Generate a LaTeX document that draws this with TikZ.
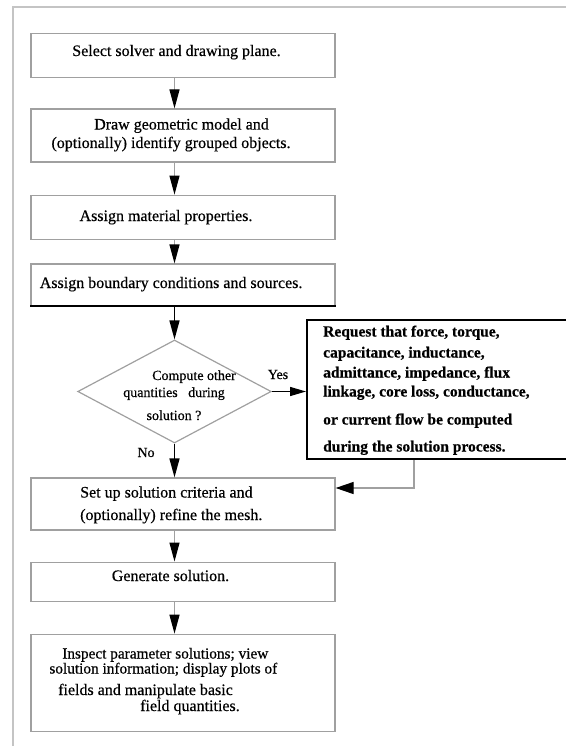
\documentclass[tikz,border=0pt]{standalone}
\usepackage{fontspec}
\setmainfont{Liberation Serif}[FakeBold=0.5]
\usetikzlibrary{arrows.meta,shapes.geometric}
\definecolor{boxgray}{HTML}{A0A0A0}
\definecolor{framegray}{HTML}{C4C4C4}
\tikzset{
  box/.style={draw=boxgray, line width=1.2pt, rectangle, inner sep=0pt, minimum width=304pt},
  dia/.style={diamond, draw=boxgray, line width=1.2pt, inner sep=0pt, minimum width=193.5pt, minimum height=103pt},
  rbox/.style={draw=black, line width=2pt, rectangle, inner sep=0pt},
  txt/.style={inner sep=0pt, font=\fontsize{16}{18}\selectfont, anchor=base},
  ltxt/.style={txt, anchor=base west},
  ctxt/.style={inner sep=0pt, font=\fontsize{15.3}{17}\selectfont, anchor=base},
  stxt/.style={inner sep=0pt, font=\fontsize{14}{16}\selectfont, anchor=base},
  btxt/.style={inner sep=0pt, font=\fontsize{15.5}{17}\selectfont\bfseries, anchor=base west},
  garr/.style={draw=boxgray, line width=1.2pt, -{Triangle[length=19pt,width=10pt,color=black]}},
  barr/.style={draw=black, line width=1.4pt, -{Triangle[length=19pt,width=10pt]}},
  harr/.style={draw=black, line width=1.4pt, -{Triangle[length=16pt,width=9pt]}},
  hgarr/.style={draw=boxgray, line width=1.2pt, -{Triangle[length=18pt,width=12pt,color=black]}},
}
\begin{document}
\begin{tikzpicture}[x=1pt,y=-1pt]
\useasboundingbox (0,0) rectangle (565,746);
% frame
\draw[framegray, line width=2pt] (12.5,747) -- (12.5,7) -- (567,7);
% boxes
\node[box, minimum height=44pt] (b1) at (183,55.3) {};
\node[box, minimum height=53pt] (b2) at (183,135.5) {};
\node[box, minimum height=44pt] (b3) at (183,217.2) {};
\node[box, minimum height=41.5pt] (b4) at (183,284.75) {};
\node[dia] (d) at (174.5,391.5) {};
\node[rbox, minimum width=270pt, minimum height=139pt] (rb) at (442,389.5) {};
\node[box, minimum height=52pt] (b5) at (183,504) {};
\node[box, minimum height=39.5pt] (b6) at (183,581.85) {};
\node[box, minimum height=97.5pt] (b7) at (183,683) {};
\draw[black, line width=2pt] (b4.south west) -- (b4.south east);
\coordinate (ax) at (174.5,0);
\coordinate (c1) at (414,488);
% texts
\node[txt] (t1) at (176.5,56) {Select solver and drawing plane.};
\node[txt] (t2a) at (181.5,129.5) {Draw geometric model and};
\node[txt] (t2b) at (171,148) {(optionally) identify grouped objects.};
\node[txt] (t3) at (166,221) {Assign material properties.};
\node[ltxt] (t4) at (39.6,288) {Assign boundary conditions and sources.};
\node[stxt] (dq1) at (194,380) {Compute other};
\node[stxt] (dq2) at (174,397) {quantities\ \ \ during};
\node[stxt] (dq3) at (174,420) {solution ?};
\node[stxt] (yes) at (278,379) {Yes};
\node[stxt] (no) at (146,457) {No};
\node[btxt] (r1) at (323,336.5) {Request that force, torque,};
\node[btxt] (r2) at (323,357.5) {capacitance, inductance,};
\node[btxt] (r3) at (323,377.5) {admittance, impedance, flux};
\node[btxt] (r4) at (323,396.5) {linkage, core loss, conductance,};
\node[btxt] (r5) at (323,424.5) {or current flow be computed};
\node[btxt] (r6) at (323,451.5) {during the solution process.};
\node[ltxt] (t5a) at (80,497.5) {Set up solution criteria and};
\node[ltxt] (t5b) at (80,520) {(optionally) refine the mesh.};
\node[txt] (t6) at (170.5,581) {Generate solution.};
\node[ctxt] (t7a) at (165.3,658.5) {Inspect parameter solutions; view};
\node[ctxt] (t7b) at (163.3,673.5) {solution information; display plots of};
\node[ltxt] (t7c) at (58,695) {fields and manipulate basic};
\node[ltxt] (t7d) at (140,711) {field quantities.};
% connectors
\draw[garr] (b1.south -| ax) -- (b2.north -| ax);
\draw[garr] (b2.south -| ax) -- (b3.north -| ax);
\draw[garr] (b3.south -| ax) -- (b4.north -| ax);
\draw[barr] (b4.south -| ax) -- (d.north);
\draw[harr] (d.east) -- (d.east -| rb.west);
\draw[barr] (d.south) -- (b5.north -| d.south);
\draw[hgarr] (rb.south -| c1) -- (c1) -- (c1 -| b5.east);
\draw[garr] (b5.south -| ax) -- (b6.north -| ax);
\draw[garr] (b6.south -| ax) -- (b7.north -| ax);
\end{tikzpicture}
\end{document}
